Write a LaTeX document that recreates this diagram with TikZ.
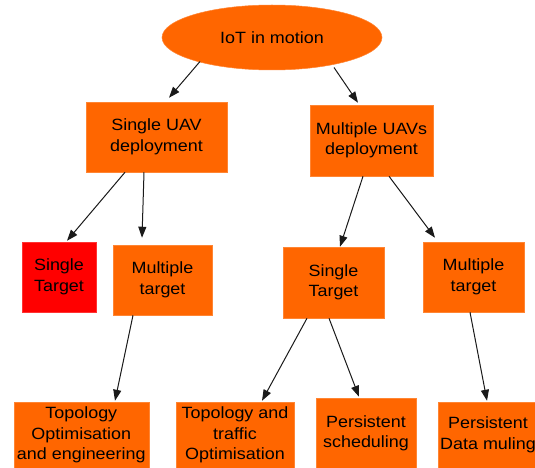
\documentclass[tikz,border=0pt]{standalone}
\usepackage{fontspec}
\setmainfont{Liberation Sans}[FakeStretch=1.1]
\usetikzlibrary{shapes.geometric,arrows.meta,calc}
\definecolor{boxorange}{HTML}{FF6600}
\definecolor{boxred}{HTML}{FF0000}
\definecolor{ink}{HTML}{1A1A1A}

\begin{document}
\begin{tikzpicture}[x=1pt,y=-1pt,
  lbl/.style={font=\fontsize{16.3}{20.5}\selectfont, text=black, align=center, inner sep=0pt},
  box/.style={lbl, rectangle, fill=boxorange, draw=boxorange!80!white, line width=0.5pt},
  redbox/.style={box, fill=boxred, draw=boxred!80!white},
  arr/.style={draw=ink, line width=1pt, -{Triangle[length=11pt,width=8pt]}}]

% page frame
\clip (0,0) rectangle (535,468);
\fill[white] (0,0) rectangle (535,468);

% root
\node[lbl, ellipse, fill=boxorange, draw=boxorange!80!white, line width=0.5pt,
      minimum width=220pt, minimum height=65pt] (ell) at (272,37.5) {IoT in motion};

% second level
\node[box, minimum width=141pt, minimum height=70pt] (suav) at (156.5,137) {Single UAV\\deployment};
\node[box, minimum width=123pt, minimum height=71pt] (muav) at (371.5,140.5) {Multiple UAVs\\deployment};

% third level
\node[redbox, minimum width=74pt, minimum height=70pt] (st1) at (59,277) {Single\\Target};
\node[box, minimum width=99pt, minimum height=70pt] (mt1) at (162.5,280) {Multiple\\target};
\node[box, minimum width=101pt, minimum height=71pt] (st2) at (333.5,282.5) {Single\\Target};
\node[box, minimum width=101pt, minimum height=70pt] (mt2) at (473.5,277) {Multiple\\target};

% leaves
\node[box, minimum width=135pt, minimum height=66pt] (b1) at (81.3,435) {Topology\\Optimisation\\and engineering};
\node[box, minimum width=118pt, minimum height=66pt] (b2) at (235,435) {Topology and\\traffic\\Optimisation};
\node[box, minimum width=100pt, minimum height=71pt] (b3) at (366,433.5) {Persistent\\scheduling};
\node[box, minimum width=100pt, minimum height=66pt] (b4) at (488,435) {Persistent\\Data muling};

% connectors
\draw[arr] ($(ell.center)+(-72,24)$) -- ($(suav.north)+(12.5,-4)$);
\draw[arr] ($(ell.center)+(62,30)$) -- ($(muav.north)+(-13.5,-2)$);
\draw[arr] ($(suav.south)+(-31.5,0)$) -- ($(st1.north)+(8,-1)$);
\draw[arr] ($(suav.south)+(-12.5,0)$) -- ($(mt1.north)+(-20.5,-7)$);
\draw[arr] ($(muav.south)+(-8.5,0)$) -- ($(st2.north)+(6.5,0)$);
\draw[arr] ($(muav.south)+(17.5,0)$) -- ($(mt2.north)+(-38.5,-4)$);
\draw[arr] ($(mt1.south)+(-29.5,0)$) -- ($(b1.north)+(33.7,-1)$);
\draw[arr] ($(st2.south)+(-26.5,0)$) -- ($(b2.north)+(27,-1)$);
\draw[arr] ($(st2.south)+(-4.5,0)$) -- ($(b3.north)+(-7,-1)$);
\draw[arr] ($(mt2.south)+(-3.5,0)$) -- ($(b4.north)+(-1,-1)$);
\end{tikzpicture}
\end{document}
